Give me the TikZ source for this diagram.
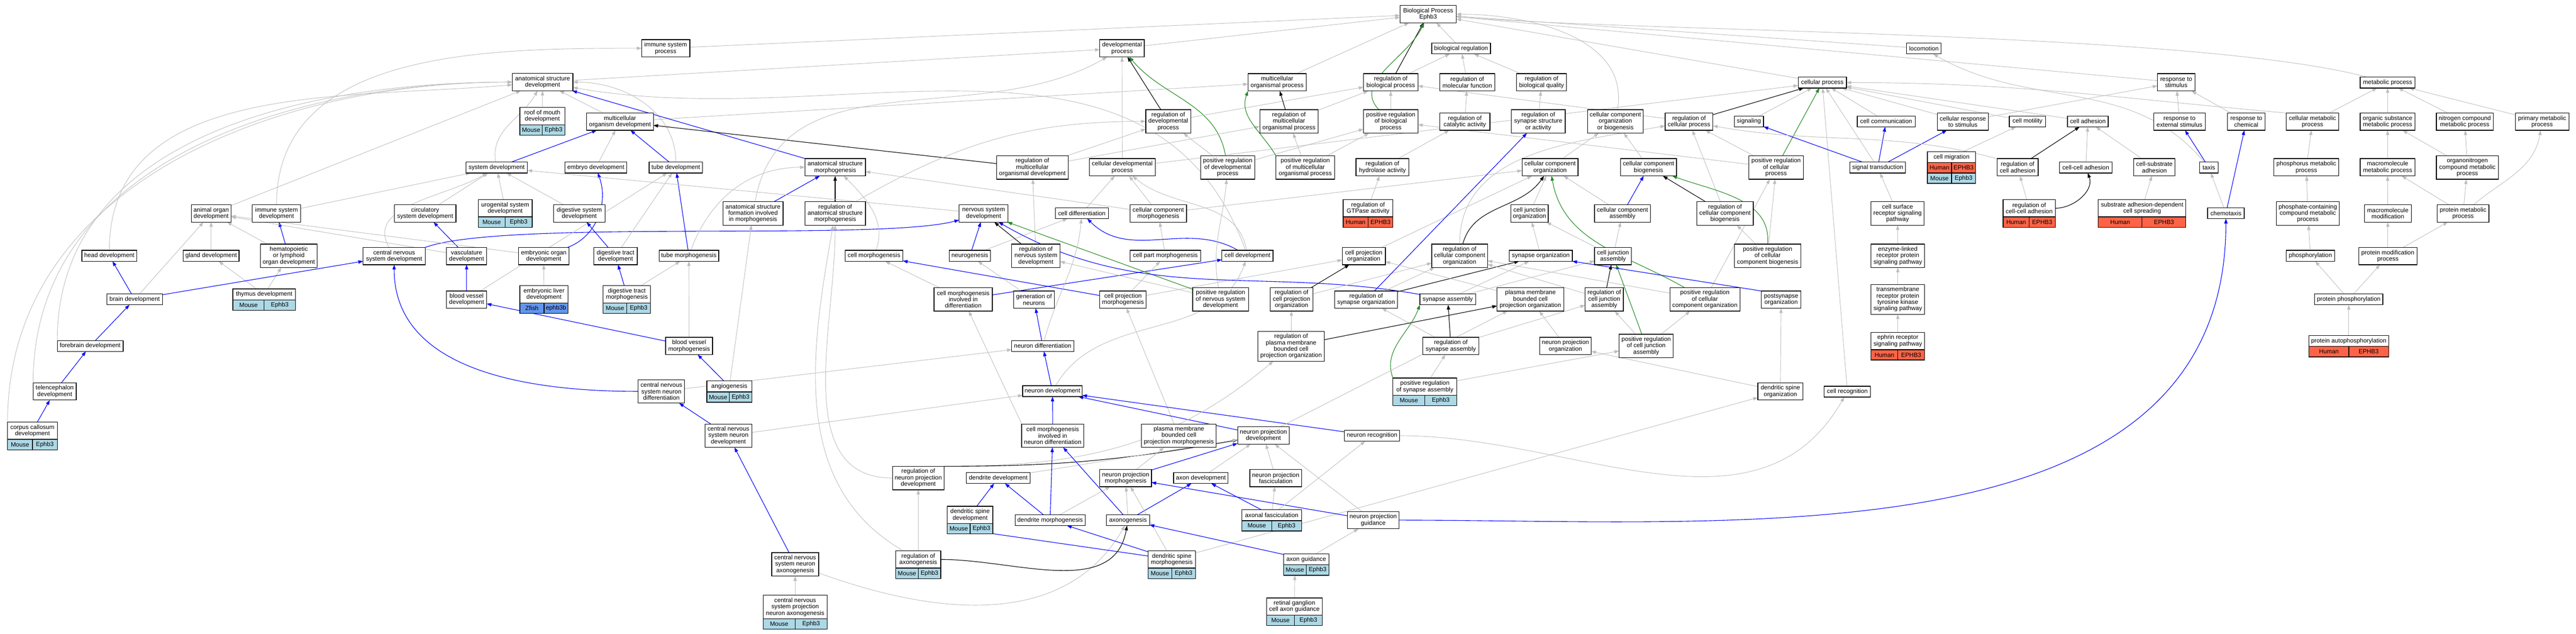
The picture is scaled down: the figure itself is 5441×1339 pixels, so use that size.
\documentclass[tikz,border=0pt]{standalone}
\usepackage{fontspec}
\setmainfont{Liberation Sans}
\usetikzlibrary{arrows.meta,calc,backgrounds}
\definecolor{isagray}{RGB}{190,190,190}
\definecolor{mouseblue}{RGB}{173,216,230}
\definecolor{humanred}{RGB}{255,99,71}
\definecolor{fishblue}{RGB}{100,149,237}
\definecolor{posgreen}{RGB}{34,139,34}
\newcommand{\generow}[6]{%
  \path let \p1=(#2), \p2=(#3), \n1={(\x2-\x1)/2} in
    node[gene, fill=#6, minimum width=\n1*1pt, anchor=north west] (#1-sp) at (\p1) {#4}
    node[gene, fill=#6, minimum width=\n1*1pt, anchor=north east] (#1-gn) at (\p2) {#5};}
\begin{document}
\begin{tikzpicture}
[x=0.5pt, y=0.5pt,
font=\fontsize{6.45}{6.75}\selectfont,
term/.style={draw, fill=white, line width=0.7pt, align=center, inner xsep=1.5pt, inner ysep=1pt, outer sep=0pt, minimum height=11.5pt},
gene/.style={draw, line width=0.7pt, inner sep=0pt, outer sep=0pt, minimum height=11pt},
wd/.style={minimum width=#1*0.5pt},
h2/.style={minimum height=18.25pt},
h3/.style={minimum height=24.75pt},
h4/.style={minimum height=31.5pt},
isa/.style={draw=isagray, line width=0.5pt, -{Triangle[length=5pt,width=3.5pt]}},
partof/.style={draw=blue, line width=0.6pt, -{Triangle[length=5pt,width=3.5pt]}},
regulates/.style={draw=black, line width=0.6pt, -{Triangle[length=5pt,width=3.5pt]}},
posreg/.style={draw=posgreen, line width=0.6pt, -{Triangle[length=5pt,width=3.5pt]}}]
\useasboundingbox (0,0) rectangle (5441,-1339);

\node[term, wd=116] (headd) at (231,-540.5) {head development};
\node[term, h2, wd=84] (aod) at (446,-451) {animal organ\\development};
\node[term, h2, wd=102] (isd) at (584,-451) {immune system\\development};
\node[term, wd=118] (glandd) at (446,-540.5) {gland development};
\node[term, h3, wd=120] (hlod) at (610,-540.5) {hematopoietic\\or lymphoid\\organ development};
\node[term, h2, wd=131] (cnsd) at (832.5,-541) {central nervous\\system development};
\node[term, wd=132] (thymd) at (558,-622) {thymus development};
\node[term, wd=117] (braind) at (284.5,-632.5) {brain development};
\node[term, wd=139] (foreb) at (190.5,-731) {forebrain development};
\node[term, h2, wd=91] (teld) at (115.5,-827) {telencephalon\\development};
\node[term, h2, wd=105] (ccd) at (68.5,-910) {corpus callosum\\development};

\node[term, h2, wd=102] (isp) at (1406,-102) {immune system\\process};
\node[term, h2, wd=128] (asd) at (1146,-173.5) {anatomical structure\\development};
\node[term, h2, wd=95] (rom) at (1145.5,-245.5) {roof of mouth\\development};
\node[term, h2, wd=141] (mod) at (1309.5,-257) {multicellular\\organism development};
\node[term, wd=130] (sysd) at (1049,-354) {system development};
\node[term, wd=131] (embd) at (1258.5,-354) {embryo development};
\node[term, wd=113] (tubd) at (1427.5,-354) {tube development};
\node[term, h2, wd=128] (asm) at (1764,-353.5) {anatomical structure\\morphogenesis};
\node[term, h2, wd=130] (csd) at (898,-451) {circulatory\\system development};
\node[term, h2, wd=114] (usd) at (1067,-440) {urogenital system\\development};
\node[term, h2, wd=109] (dsd) at (1223.5,-451) {digestive system\\development};
\node[term, h3, wd=127] (asfm) at (1590.5,-451) {anatomical structure\\formation involved\\in morphogenesis};
\node[term, h3, wd=128] (rasm) at (1764,-451) {regulation of\\anatomical structure\\morphogenesis};
\node[term, h2, wd=85] (vascd) at (985.5,-541) {vasculature\\development};
\node[term, h2, wd=107] (eod) at (1148.5,-541) {embryonic organ\\development};
\node[term, h2, wd=92] (dtd) at (1300,-541) {digestive tract\\development};
\node[term, wd=126] (tubm) at (1455,-540.5) {tube morphogenesis};
\node[term, h2, wd=85] (bvd) at (985.5,-633) {blood vessel\\development};
\node[term, h2, wd=102] (eld) at (1149,-622) {embryonic liver\\development};
\node[term, h2, wd=100] (dtm) at (1324,-622) {digestive tract\\morphogenesis};
\node[term, h2, wd=99] (bvm) at (1455.5,-731) {blood vessel\\morphogenesis};
\node[term, h3, wd=98] (cnsnd) at (1397,-827) {central nervous\\system neuron\\differentiation};
\node[term, wd=95] (angio) at (1540.5,-816.5) {angiogenesis};
\node[term, h3, wd=99] (cnsndev) at (1538.5,-920.5) {central nervous\\system neuron\\development};
\node[term, h3, wd=99] (cnsna) at (1679.5,-1192.5) {central nervous\\system neuron\\axonogenesis};
\node[term, h3, wd=135] (cnspna) at (1679.5,-1282.5) {central nervous\\system projection\\neuron axonogenesis};

\node[term, h2, wd=94] (devp) at (2370,-102) {developmental\\process};
\node[term, h3, wd=95] (rdp) at (2467.5,-256.5) {regulation of\\developmental\\process};
\node[term, h3, wd=151] (rmod) at (2180.5,-354) {regulation of\\multicellular\\organismal development};
\node[term, h2, wd=139] (cdp) at (2370.5,-353.5) {cellular developmental\\process};
\node[term, h3, wd=114] (prdp) at (2593,-354) {positive regulation\\of developmental\\process};
\node[term, h2, wd=103] (nsd) at (2077.5,-451) {nervous system\\development};
\node[term, wd=112] (cdiff) at (2285,-450.5) {cell differentiation};
\node[term, h2, wd=119] (ccm) at (2446.5,-451) {cellular component\\morphogenesis};
\node[term, wd=122] (cmorph) at (1846,-540.5) {cell morphogenesis};
\node[term, wd=87] (neurog) at (2048.5,-540.5) {neurogenesis};
\node[term, h3, wd=102] (rnsd) at (2188,-540.5) {regulation of\\nervous system\\development};
\node[term, wd=149] (cpm) at (2461.5,-540.5) {cell part morphogenesis};
\node[term, wd=108] (celld) at (2635,-540.5) {cell development};
\node[term, h3, wd=123] (cmid) at (2034.5,-632.5) {cell morphogenesis\\involved in\\differentiation};
\node[term, h2, wd=86] (genn) at (2184,-633) {generation of\\neurons};
\node[term, h2, wd=98] (cpmorph) at (2372,-633) {cell projection\\morphogenesis};
\node[term, h3, wd=118] (prnsd) at (2578,-632.5) {positive regulation\\of nervous system\\development};
\node[term, wd=131] (nd) at (2202.5,-731) {neuron differentiation};
\node[term, wd=126] (neurd) at (2223,-826.5) {neuron development};
\node[term, h3, wd=131] (cmind) at (2223.5,-920.5) {cell morphogenesis\\involved in\\neuron differentiation};
\node[term, h3, wd=158] (pmbcpm) at (2490,-920.5) {plasma membrane\\bounded cell\\projection morphogenesis};
\node[term, h2, wd=109] (npd) at (2668.5,-920) {neuron projection\\development};
\node[term, h3, wd=109] (rnpd) at (1939.5,-1010) {regulation of\\neuron projection\\development};
\node[term, wd=135] (dendd) at (2108.5,-1010) {dendrite development};
\node[term, h2, wd=109] (npm) at (2377.5,-1010) {neuron projection\\morphogenesis};
\node[term, wd=115] (axd) at (2536.5,-1010) {axon development};
\node[term, h2, wd=109] (npf) at (2694.5,-1010) {neuron projection\\fasciculation};
\node[term, h2, wd=96] (dsd2) at (2049,-1088) {dendritic spine\\development};
\node[term, wd=148] (dendm) at (2218,-1099) {dendrite morphogenesis};
\node[term, wd=91] (axon) at (2382.5,-1099) {axonogenesis};
\node[term, wd=126] (axf) at (2686,-1088.5) {axonal fasciculation};
\node[term, h2, wd=95] (rax) at (1939.5,-1182) {regulation of\\axonogenesis};
\node[term, h2, wd=100] (dsm) at (2475,-1182) {dendritic spine\\morphogenesis};
\node[term, wd=96] (axg) at (2759,-1182) {axon guidance};
\node[term, h2, wd=118] (rgcag) at (2734,-1281.5) {retinal ganglion\\cell axon guidance};
\node[term, h2, wd=109] (npg) at (2900.5,-1099) {neuron projection\\guidance};
\node[term, wd=116] (nrec) at (2898,-920.5) {neuron recognition};

\node[term, h2, wd=119] (bp) at (3016.5,-30) {Biological Process\\Ephb3};
\node[term, h2, wd=123] (mop) at (2697.5,-174) {multicellular\\organismal process};
\node[term, wd=124] (bioreg) at (3086,-102.5) {biological regulation};
\node[term, h2, wd=115] (rbp) at (2937.5,-174) {regulation of\\biological process};
\node[term, h2, wd=116] (rmf) at (3099,-174) {regulation of\\molecular function};
\node[term, h2, wd=106] (rbq) at (3256,-174) {regulation of\\biological quality};
\node[term, h3, wd=123] (rmop) at (2722.5,-256.5) {regulation of\\multicellular\\organismal process};
\node[term, h3, wd=115] (prbp) at (2937.5,-256.5) {positive regulation\\of biological\\process};
\node[term, h2, wd=106] (rca) at (3094,-257) {regulation of\\catalytic activity};
\node[term, h3, wd=114] (rssa) at (3249,-256.5) {regulation of\\synapse structure\\or activity};
\node[term, h3, wd=118] (ccob) at (3412,-256.5) {cellular component\\organization\\or biogenesis};
\node[term, h2, wd=101] (rcp) at (3567.5,-257) {regulation of\\cellular process};
\node[term, h3, wd=124] (prmop) at (2757,-354) {positive regulation\\of multicellular\\organismal process};
\node[term, h2, wd=112] (rha) at (2920,-353.5) {regulation of\\hydrolase activity};
\node[term, h2, wd=118] (cco) at (3274,-353.5) {cellular component\\organization};
\node[term, h2, wd=118] (ccb) at (3482,-353.5) {cellular component\\biogenesis};
\node[term, h2, wd=105] (rgtp) at (2889.5,-440) {regulation of\\GTPase activity};
\node[term, h2, wd=79] (cjo) at (3230.5,-451) {cell junction\\organization};
\node[term, h2, wd=118] (cca) at (3427,-451) {cellular component\\assembly};
\node[term, h3, wd=119] (rccb) at (3643.5,-451) {regulation of\\cellular component\\biogenesis};
\node[term, h2, wd=91] (cpo) at (2880.5,-541) {cell projection\\organization};
\node[term, h3, wd=118] (rcco) at (3083,-540.5) {regulation of\\cellular component\\organization};
\node[term, wd=133] (syno) at (3254.5,-540.5) {synapse organization};
\node[term, h2, wd=78] (cja) at (3407,-541) {cell junction\\assembly};
\node[term, h3, wd=90] (rcpo) at (2728,-632.5) {regulation of\\cell projection\\organization};
\node[term, h2, wd=133] (rso) at (2885.5,-633) {regulation of\\synapse organization};
\node[term, wd=118] (sa) at (3058,-632.5) {synapse assembly};
\node[term, h3, wd=141] (pmbcpo) at (3232.5,-632.5) {plasma membrane\\bounded cell\\projection organization};
\node[term, h3, wd=81] (rcja) at (3388.5,-632.5) {regulation of\\cell junction\\assembly};
\node[term, h3, wd=148] (prcco) at (3601,-632.5) {positive regulation\\of cellular\\component organization};
\node[term, h4, wd=140] (rpmbcpo) at (2727,-731.5) {regulation of\\plasma membrane\\bounded cell\\projection organization};
\node[term, h2, wd=119] (rsa) at (3064.5,-731) {regulation of\\synapse assembly};
\node[term, h2, wd=109] (npo) at (3306.5,-731) {neuron projection\\organization};
\node[term, h3, wd=114] (prcja) at (3477,-731) {positive regulation\\of cell junction\\assembly};
\node[term, h2, wd=135] (prsa) at (3009.5,-817) {positive regulation\\of synapse assembly};

\node[term, wd=73] (loco) at (4063.5,-102.5) {locomotion};
\node[term, wd=102] (cp) at (3849,-174.5) {cellular process};
\node[term, wd=62] (sig) at (3694,-256.5) {signaling};
\node[term, wd=122] (ccom) at (3984,-256.5) {cell communication};
\node[term, h2, wd=108] (crs) at (4146,-257) {cellular response\\to stimulus};
\node[term, wd=77] (cmot) at (4282.5,-256.5) {cell motility};
\node[term, wd=86] (cadh) at (4410,-256.5) {cell adhesion};
\node[term, h3, wd=115] (prcp) at (3751.5,-354) {positive regulation\\of cellular\\process};
\node[term, wd=118] (st) at (3966,-354) {signal transduction};
\node[term, wd=102] (cmig) at (4122,-332) {cell migration};
\node[term, h2, wd=87] (rcad) at (4261.5,-353.5) {regulation of\\cell adhesion};
\node[term, wd=111] (ccad) at (4405.5,-354) {cell-cell adhesion};
\node[term, h2, wd=87] (csad) at (4550.5,-353.5) {cell-substrate\\adhesion};
\node[term, h3, wd=112] (csrsp) at (4008,-451) {cell surface\\receptor signaling\\pathway};
\node[term, h2, wd=110] (rccad) at (4286,-440) {regulation of\\cell-cell adhesion};
\node[term, h2, wd=185] (sadcs) at (4524.5,-440) {substrate adhesion-dependent\\cell spreading};
\node[term, h3, wd=141] (prccb) at (3733.5,-540.5) {positive regulation\\of cellular\\component biogenesis};
\node[term, h3, wd=113] (elrpsp) at (4008.5,-540.5) {enzyme-linked\\receptor protein\\signaling pathway};
\node[term, h2, wd=84] (pso) at (3762,-633) {postsynapse\\organization};
\node[term, h4, wd=113] (trptksp) at (4008.5,-632.5) {transmembrane\\receptor protein\\tyrosine kinase\\signaling pathway};
\node[term, h2, wd=113] (ersp) at (4008.5,-720.5) {ephrin receptor\\signaling pathway};
\node[term, h2, wd=95] (dso) at (3760.5,-827) {dendritic spine\\organization};
\node[term, wd=98] (crec) at (3902,-827.5) {cell recognition};

\node[term, h2, wd=79] (rts) at (4596.5,-174) {response to\\stimulus};
\node[term, wd=116] (mp) at (5043,-174.5) {metabolic process};
\node[term, h2, wd=109] (res) at (4603.5,-257) {response to\\external stimulus};
\node[term, h2, wd=79] (rch) at (4744.5,-257) {response to\\chemical};
\node[term, h2, wd=111] (cmp) at (4884.5,-257) {cellular metabolic\\process};
\node[term, h2, wd=116] (osmp) at (5043,-257) {organic substance\\metabolic process};
\node[term, h2, wd=120] (ncmp) at (5206,-257) {nitrogen compound\\metabolic process};
\node[term, h2, wd=113] (pmp) at (5369.5,-257) {primary metabolic\\process};
\node[term, wd=39] (taxis) at (4665.5,-354) {taxis};
\node[term, h2, wd=137] (phmp) at (4871.5,-353.5) {phosphorus metabolic\\process};
\node[term, h2, wd=116] (mmp) at (5043,-353.5) {macromolecule\\metabolic process};
\node[term, h3, wd=131] (oncmp) at (5211.5,-354) {organonitrogen\\compound metabolic\\process};
\node[term, wd=77] (chemo) at (4701.5,-450.5) {chemotaxis};
\node[term, h3, wd=133] (pccmp) at (4874.5,-451) {phosphate-containing\\compound metabolic\\process};
\node[term, h2, wd=99] (mmod) at (5043.5,-451) {macromolecule\\modification};
\node[term, h2, wd=109] (prmp) at (5202.5,-451) {protein metabolic\\process};
\node[term, wd=102] (phos) at (4880,-540.5) {phosphorylation};
\node[term, h2, wd=123] (pmodp) at (5043.5,-541) {protein modification\\process};
\node[term, wd=144] (pphos) at (4961,-632.5) {protein phosphorylation};
\node[term, wd=168] (pap) at (4961,-720.5) {protein autophosphorylation};

\generow{thymd}{thymd.south west}{thymd.south east}{Mouse}{Ephb3}{mouseblue}
\generow{ccd}{ccd.south west}{ccd.south east}{Mouse}{Ephb3}{mouseblue}
\generow{rom}{rom.south west}{rom.south east}{Mouse}{Ephb3}{mouseblue}
\generow{usd}{usd.south west}{usd.south east}{Mouse}{Ephb3}{mouseblue}
\generow{eld}{eld.south west}{eld.south east}{Zfish}{ephb3b}{fishblue}
\generow{dtm}{dtm.south west}{dtm.south east}{Mouse}{Ephb3}{mouseblue}
\generow{angio}{angio.south west}{angio.south east}{Mouse}{Ephb3}{mouseblue}
\generow{cnspna}{cnspna.south west}{cnspna.south east}{Mouse}{Ephb3}{mouseblue}
\generow{dsd2}{dsd2.south west}{dsd2.south east}{Mouse}{Ephb3}{mouseblue}
\generow{rax}{rax.south west}{rax.south east}{Mouse}{Ephb3}{mouseblue}
\generow{dsm}{dsm.south west}{dsm.south east}{Mouse}{Ephb3}{mouseblue}
\generow{axf}{axf.south west}{axf.south east}{Mouse}{Ephb3}{mouseblue}
\generow{axg}{axg.south west}{axg.south east}{Mouse}{Ephb3}{mouseblue}
\generow{rgcag}{rgcag.south west}{rgcag.south east}{Mouse}{Ephb3}{mouseblue}
\generow{prsa}{prsa.south west}{prsa.south east}{Mouse}{Ephb3}{mouseblue}
\generow{rgtp}{rgtp.south west}{rgtp.south east}{Human}{EPHB3}{humanred}
\generow{cmig}{cmig.south west}{cmig.south east}{Human}{EPHB3}{humanred}
\generow{cmigm}{cmig-sp.south west}{cmig-gn.south east}{Mouse}{Ephb3}{mouseblue}
\generow{rccad}{rccad.south west}{rccad.south east}{Human}{EPHB3}{humanred}
\generow{sadcs}{sadcs.south west}{sadcs.south east}{Human}{EPHB3}{humanred}
\generow{ersp}{ersp.south west}{ersp.south east}{Human}{EPHB3}{humanred}
\generow{pap}{pap.south west}{pap.south east}{Human}{EPHB3}{humanred}

\begin{scope}[on background layer]
\fill[white] (0,0) rectangle (5441,-1339);
\draw[isa] (headd) to[out=90,in=185] (asd);
\draw[isa] (aod) -- (asd);
\draw[isa] (isd) to[out=90,in=180] (isp);
\draw[isa] (isd) -- (sysd);
\draw[isa] (glandd) -- (aod);
\draw[isa] (hlod) -- (aod);
\draw[partof] (hlod) -- (isd);
\draw[isa] (thymd) -- (glandd);
\draw[isa] (thymd) -- (hlod);
\draw[partof] (braind) -- (headd);
\draw[partof] (braind) -- (cnsd);
\draw[isa] (braind) -- (aod);
\draw[partof] (cnsd.north east) to[out=20,in=195,looseness=0.4] (nsd);
\draw[isa] (cnsd) to[out=120,in=-150] (sysd);
\draw[partof] (foreb) -- (braind);
\draw[isa] (foreb.north west) to[out=90,in=180] (asd);
\draw[partof] (teld) -- (foreb);
\draw[isa] (teld.north west) to[out=90,in=180] (asd);
\draw[partof] (ccd) -- (teld);
\draw[isa] (ccd.north west) to[out=90,in=180] (asd);
\draw[isa] (csd) -- (sysd);
\draw[partof] (vascd) -- (csd);
\draw[isa] (vascd) -- (aod);
\draw[partof] (bvd) -- (vascd);
\draw[isa] (bvd) -- (tubd);
\draw[partof] (bvm) -- (bvd);
\draw[isa] (bvm) -- (tubm);
\draw[partof] (angio) -- (bvm);
\draw[isa] (angio) -- (asfm);
\draw[partof] (cnsnd) to[out=180,in=-90] (cnsd);
\draw[isa] (cnsnd) -- (nd);
\draw[partof] (cnsndev) -- (cnsnd);
\draw[isa] (cnsndev) -- (neurd);
\draw[partof] (cnsna) -- (cnsndev);
\draw[isa] (cnsna) to[out=-20,in=-120] (axon);
\draw[isa] (cnspna) -- (cnsna);

\draw[isa] (isp) -- (bp);
\draw[isa] (asd) -- (devp);
\draw[isa] (rom) -- (asd);
\draw[isa] (mod) -- (asd);
\draw[isa] (mod) -- (mop);
\draw[isa] (sysd) to[out=100,in=-120] (asd);
\draw[partof] (sysd) -- (mod);
\draw[isa] (embd) -- (mod);
\draw[partof] (tubd) -- (mod);
\draw[isa] (tubd) to[out=90,in=0] (asd);
\draw[partof] (asm) -- (asd);
\draw[regulates] (rmod) -- (mod);
\draw[isa] (usd) -- (sysd);
\draw[isa] (dsd) -- (sysd);
\draw[partof] (dtd) -- (dsd);
\draw[isa] (dtd) -- (tubd);
\draw[partof] (dtm) -- (dtd);
\draw[isa] (dtm) -- (tubm);
\draw[partof] (tubm) -- (tubd);
\draw[isa] (tubm) to[out=70,in=180] (asm);
\draw[partof] (eod) to[out=20,in=-70] (embd);
\draw[isa] (eod) -- (aod);
\draw[isa] (eld) -- (eod);
\draw[partof] (asfm) -- (asm);
\draw[isa] (asfm) to[out=80,in=-150] (devp);
\draw[regulates] (rasm) -- (asm);
\draw[isa] (rasm) to[out=30,in=180] (rdp);

\draw[isa] (devp) -- (bp);
\draw[isa] (cdp) -- (devp);
\draw[regulates] (rdp) -- (devp);
\draw[posreg] (prdp) to[out=100,in=-50] (devp);
\draw[isa] (prdp) -- (rdp);
\draw[isa] (rdp) -- (rbp);
\draw[isa] (rmod) -- (rdp);
\draw[isa] (rmod) -- (rmop);
\draw[isa] (cdp) -- (cp);
\draw[isa] (prdp) -- (prbp);
\draw[posreg] (prmop.north west) to[out=120,in=-110] (mop.south west);
\draw[regulates] (rmop) -- (mop);
\draw[isa] (prmop) -- (rmop);
\draw[isa] (nsd) -- (sysd);
\draw[isa] (cdiff) -- (cdp);
\draw[isa] (ccm) -- (cdp);
\draw[isa] (ccm) -- (asm);
\draw[isa] (ccm) -- (cco);
\draw[isa] (cmorph) to[out=70,in=-45] (asm);
\draw[partof] (neurog) -- (nsd);
\draw[isa] (neurog) -- (cdiff);
\draw[regulates] (rnsd) -- (nsd);
\draw[isa] (rnsd) -- (rmod);
\draw[isa] (cpm) -- (ccm);
\draw[partof] (celld) to[out=150,in=-45] (cdiff);
\draw[isa] (celld) to[out=100,in=-40] (cdp);
\draw[isa] (celld) to[out=110,in=-10] (asd);
\draw[isa] (cmid) -- (cmorph);
\draw[partof] (cmid) -- (celld);
\draw[isa] (genn) -- (neurog);
\draw[partof] (cpmorph) -- (cmorph);
\draw[isa] (cpmorph) -- (cpm);
\draw[isa] (cpmorph) -- (cpo);
\draw[posreg] (prnsd) -- (nsd);
\draw[isa] (prnsd) -- (rnsd);
\draw[isa] (prnsd) to[out=100,in=-95] (prdp);
\draw[partof] (sa) to[out=170,in=-30] (nsd);
\draw[partof] (nd) -- (genn);
\draw[isa] (nd) to[out=75,in=-95] (cdiff);
\draw[partof] (neurd) -- (nd);
\draw[isa] (neurd) to[out=60,in=-110] (celld);
\draw[partof] (cmind) -- (neurd);
\draw[isa] (cmind.north west) -- (cmid);
\draw[isa] (pmbcpm) -- (cpmorph);
\draw[partof] (npd) -- (neurd);
\draw[partof] (nrec) -- (neurd);
\draw[isa] (rnpd.north east) to[out=0,in=-140] (rpmbcpo);
\draw[regulates] (rnpd.north east) to[out=0,in=190] (npd);
\draw[isa] (rpmbcpo) -- (rcpo);
\draw[isa] (dendd) -- (npd);
\draw[isa] (npm) -- (pmbcpm);
\draw[partof] (npm) -- (npd);
\draw[isa] (axd) -- (npd);
\draw[isa] (npf) -- (npd);
\draw[partof] (dsd2) -- (dendd);
\draw[partof] (dendm) -- (dendd);
\draw[partof] (dendm) -- (cmind);
\draw[isa] (dendm) -- (npm);
\draw[partof] (axon) -- (cmind);
\draw[isa] (axon) -- (npm);
\draw[partof] (axon) -- (axd);
\draw[partof] (axf) -- (axd);
\draw[isa] (axf) -- (npf);
\draw[isa] (rax) -- (rnpd);
\draw[regulates] (rax) to[out=0,in=-100] (axon);
\draw[isa] (rax) to[out=150,in=-100] (rasm);
\draw[isa] (rnpd) to[out=180,in=-90] (rasm);
\draw[partof] (dsm) -- (dendm);
\draw[partof] (dsm) -- (dsd2-sp);
\draw[isa] (dsm) -- (npm);
\draw[isa] (dsm) -- (dso);
\draw[partof] (axg) -- (axon);
\draw[partof] (npg) -- (npm);
\draw[partof] (npg) to[out=0,in=-90] (chemo);
\draw[isa] (npg) -- (npd);
\draw[isa] (axg) -- (npg);
\draw[isa] (rgcag) -- (axg-sp);
\draw[isa] (axf) -- (nrec);
\draw[isa] (nrec) to[out=0,in=-120] (crec);

\draw[regulates] (rbp) -- (bp);
\draw[posreg] (prbp) to[out=135,in=-115] (bp);
\draw[isa] (prbp) -- (rbp);
\draw[isa] (bioreg) -- (bp);
\draw[isa] (rbp) -- (bioreg);
\draw[isa] (rmf) -- (bioreg);
\draw[isa] (rbq) -- (bioreg);
\draw[isa] (rca) -- (rmf);
\draw[isa] (rssa) -- (rbq);
\draw[isa] (rha) -- (rca);
\draw[isa] (rgtp) -- (rha);
\draw[isa] (rmop) -- (rbp);
\draw[isa] (prmop) -- (prbp);
\draw[isa] (mop) -- (bp);
\draw[isa] (prcp) -- (prbp);
\draw[isa] (prcp) -- (rcp);
\draw[posreg] (prcp) -- (cp);
\draw[isa] (rcp) -- (rbp);
\draw[regulates] (rcp) -- (cp);
\draw[isa] (ccob) to[out=80,in=0] (bp);
\draw[isa] (cco) -- (ccob);
\draw[isa] (ccb) -- (ccob);
\draw[regulates] (rccb) -- (ccb);
\draw[isa] (rccb) -- (rcp);
\draw[posreg] (prccb.north) to[out=85,in=-20] (ccb);
\draw[isa] (prccb) -- (rccb);
\draw[isa] (prccb) -- (prcp);
\draw[isa] (cjo) -- (cco);
\draw[partof] (cca) -- (ccb);
\draw[isa] (cca) -- (cco);
\draw[isa] (cpo) -- (cco);
\draw[regulates] (rcco) to[out=75,in=-125] (cco);
\draw[isa] (rcco) to[out=90,in=-170] (rcp);
\draw[isa] (syno) -- (cjo);
\draw[isa] (cja) -- (cjo);
\draw[isa] (cja) -- (cca);
\draw[regulates] (rcpo) -- (cpo);
\draw[isa] (rcpo) -- (rcco);
\draw[regulates] (rso) -- (syno);
\draw[partof] (rso) -- (rssa);
\draw[isa] (rso) -- (rcco);
\draw[isa] (sa) -- (syno);
\draw[isa] (sa) -- (cja);
\draw[isa] (pmbcpo) -- (cpo);
\draw[regulates] (rcja) -- (cja);
\draw[isa] (rcja) -- (rcco);
\draw[posreg] (prcco) to[out=150,in=-80] (cco);
\draw[isa] (prcco) -- (rcco);
\draw[isa] (prcco) -- (prcp);
\draw[posreg] (prcja) -- (cja);
\draw[isa] (prcja) -- (rcja);
\draw[isa] (prcja) -- (prcco);
\draw[regulates] (rsa) -- (sa);
\draw[isa] (rsa) -- (rso);
\draw[isa] (rsa) -- (rcja);
\draw[regulates] (rpmbcpo) -- (pmbcpo);
\draw[isa] (npo) -- (pmbcpo);
\draw[isa] (prsa) -- (rsa);
\draw[posreg] (prsa.north west) to[out=110,in=-110] (sa.south west);
\draw[isa] (prsa) -- (prcja);
\draw[isa] (dso) -- (npo);
\draw[isa] (npd) -- (pmbcpo);
\draw[partof] (pso.north west) -- (syno.south east);
\draw[isa] (dso) -- (pso);
\draw[isa] (crec) -- (cp);

\draw[isa] (loco) -- (bp);
\draw[isa] (cp) -- (bp);
\draw[isa] (sig) -- (cp);
\draw[isa] (ccom) -- (cp);
\draw[isa] (crs) -- (cp);
\draw[isa] (cmot) -- (cp);
\draw[isa] (cadh) -- (cp);
\draw[partof] (st) -- (sig);
\draw[partof] (st) -- (ccom);
\draw[partof] (st) -- (crs);
\draw[isa] (st) -- (cp);
\draw[isa] (cmig) -- (cmot);
\draw[regulates] (rcad) -- (cadh);
\draw[isa] (rcad.north west) to[out=165,in=-10] (rcp);
\draw[isa] (ccad) -- (cadh);
\draw[isa] (csad) -- (cadh);
\draw[isa] (rccad) -- (rcad);
\draw[regulates] (rccad) to[out=0,in=-70] (ccad);
\draw[isa] (sadcs) -- (csad);
\draw[isa] (csrsp) -- (st);
\draw[isa] (elrpsp) -- (csrsp);
\draw[isa] (trptksp) -- (elrpsp);
\draw[isa] (ersp) -- (trptksp);
\draw[isa] (chemo) -- (taxis);
\draw[partof] (chemo) -- (rch);
\draw[partof] (taxis) -- (res);
\draw[isa] (taxis) to[out=130,in=-30] (loco);
\draw[isa] (res) -- (rts);
\draw[isa] (rch) -- (rts);
\draw[isa] (rts) -- (bp);
\draw[isa] (crs) -- (rts);
\draw[isa] (cmp.north west) to[out=175,in=0] (cp);
\draw[isa] (cmp) -- (mp);
\draw[isa] (osmp) -- (mp);
\draw[isa] (ncmp) -- (mp);
\draw[isa] (pmp) -- (mp);
\draw[isa] (mp) to[out=165,in=-5,looseness=0.5] (bp);
\draw[isa] (phmp) -- (cmp);
\draw[isa] (mmp) -- (osmp);
\draw[isa] (oncmp) -- (osmp);
\draw[isa] (oncmp) -- (ncmp);
\draw[isa] (pccmp) -- (phmp);
\draw[isa] (mmod) -- (mmp);
\draw[isa] (prmp) -- (mmp);
\draw[isa] (prmp) -- (oncmp);
\draw[isa] (prmp) to[out=40,in=-100] (pmp);
\draw[isa] (phos) -- (pccmp);
\draw[isa] (pmodp) -- (mmod);
\draw[isa] (pmodp) -- (prmp);
\draw[isa] (pphos) -- (phos);
\draw[isa] (pphos) -- (pmodp);
\draw[isa] (pap) -- (pphos);
\end{scope}
\end{tikzpicture}
\end{document}
